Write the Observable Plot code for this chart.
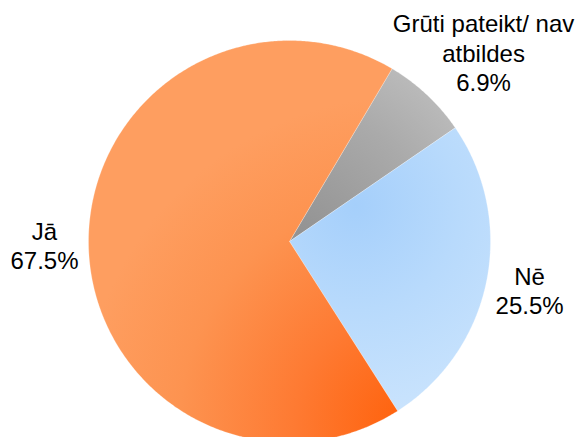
<!DOCTYPE html>
<html>
<head>
<meta charset="utf-8">
<script src="https://cdn.jsdelivr.net/npm/d3@7"></script>
<script src="https://cdn.jsdelivr.net/npm/@observablehq/plot@0.6"></script>
<style>
  html, body { margin: 0; padding: 0; background: white; overflow: hidden; }
  #chart svg { display: block; }
</style>
</head>
<body>
<div id="chart"></div>
<script>
// ---- data ----
const categories = ["Grūti pateikt/ nav\natbildes", "Nē", "Jā"];
const values = [6.9, 25.5, 67.5];
const valueLabels = ["6.9%", "25.5%", "67.5%"];

// ---- layout / style ----
const W = 575, H = 437;
const cx = 289, cy = 241, R = 201;
const startDeg = 30.7;
const labelRadius = [271, 245, 245];
const labelAngleNudge = [2.6, 0, 0]; // degrees
const gradIds = ["gGray", "gBlue", "gOrange"];

const pie = d3.pie().sort(null).value(d => d)
  .startAngle(startDeg * Math.PI / 180)
  .endAngle(startDeg * Math.PI / 180 + 2 * Math.PI);
const arcs = pie(values);

// polygon outline for each slice (derived from the pie angles)
function slicePoints(a, i) {
  const pts = [{x: cx, y: cy, k: i}];
  const n = Math.max(2, Math.ceil((a.endAngle - a.startAngle) / (Math.PI / 360)));
  for (let j = 0; j <= n; j++) {
    const t = a.startAngle + (a.endAngle - a.startAngle) * j / n;
    pts.push({x: cx + R * Math.sin(t), y: cy - R * Math.cos(t), k: i});
  }
  pts.push({x: cx, y: cy, k: i});
  return pts;
}

const labels = arcs.map((a, i) => {
  const m = (a.startAngle + a.endAngle) / 2 + labelAngleNudge[i] * Math.PI / 180;
  return {
    x: cx + labelRadius[i] * Math.sin(m),
    y: cy - labelRadius[i] * Math.cos(m),
    text: categories[i] + "\n" + valueLabels[i]
  };
});

const sliceMarks = arcs.map((a, i) =>
  Plot.line(slicePoints(a, i), {
    x: "x", y: "y",
    fill: `url(#${gradIds[i]})`,
    stroke: "white", strokeWidth: 0.4, strokeOpacity: 0.6,
    curve: "linear"
  })
);

const chart = Plot.plot({
  width: W, height: H,
  margin: 0,
  x: {type: "identity", axis: null},
  y: {type: "identity", axis: null},
  style: {background: "white", fontFamily: "'Liberation Sans', Arial, sans-serif"},
  marks: [
    ...sliceMarks,
    Plot.text(labels, {
      x: "x", y: "y", text: "text",
      fontSize: 24, lineHeight: 1.22,
      fill: "black", textAnchor: "middle",
      fontFamily: "'Liberation Sans', Arial, sans-serif"
    })
  ]
});

// gradients
const defs = d3.select(chart).insert("defs", ":first-child");
function radial(id, gx, gy, r, stops) {
  const g = defs.append("radialGradient").attr("id", id)
    .attr("gradientUnits", "userSpaceOnUse")
    .attr("cx", gx).attr("cy", gy).attr("r", r);
  stops.forEach(([o, c]) => g.append("stop").attr("offset", o).attr("stop-color", c));
}
radial("gOrange", 410, 425, 330, [[0, "#ff600a"], [0.35, "#fe7a32"], [0.7, "#fd9350"], [1, "#fe9e60"]]);
radial("gBlue", 355, 205, 210, [[0, "#a5cffb"], [0.5, "#b8dafc"], [1, "#c9e3fd"]]);
radial("gGray", 300, 238, 215, [[0, "#929292"], [0.6, "#aaaaaa"], [1, "#bfbfbf"]]);

document.getElementById("chart").appendChild(chart);
</script>
</body>
</html>
